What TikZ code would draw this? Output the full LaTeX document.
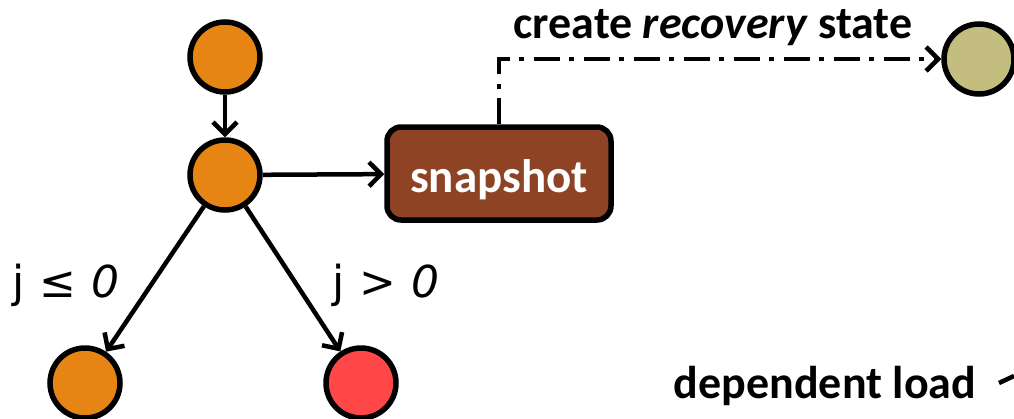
\documentclass[tikz,border=0pt]{standalone}
\usepackage{fontspec}
\setmainfont{Carlito}
\newfontfamily\hand{DejaVu Sans}
\usetikzlibrary{arrows.meta}
\definecolor{nodeorange}{HTML}{E68514}
\definecolor{nodered}{HTML}{FF4747}
\definecolor{nodekhaki}{HTML}{C4BD80}
\definecolor{snapbrown}{HTML}{8E4324}
\tikzset{
  state/.style={circle, draw=black, line width=5.5pt, minimum size=70pt, inner sep=0pt},
  snapbox/.style={draw=black, fill=snapbrown, line width=5.5pt, rounded corners=14pt,
    minimum width=224pt, minimum height=93pt, inner sep=0pt},
  barb/.style={-{Straight Barb[length=12pt, width=24pt, line width=4.5pt]}},
  flow/.style={line width=4.5pt, barb},
  dashdot/.style={line width=4.5pt, dash pattern=on 26pt off 9pt on 5pt off 10pt},
  boldlabel/.style={font=\fontsize{46}{50}\selectfont\bfseries, inner sep=0pt},
  condlabel/.style={font=\hand\fontsize{44}{48}\selectfont, inner sep=0pt}
}
\begin{document}
\begin{tikzpicture}[x=1pt, y=-1pt]
\useasboundingbox (0,0) rectangle (1014,418);

% states
\node[state, fill=nodeorange] (top) at (225,57) {};
\node[state, fill=nodeorange] (mid) at (225,175) {};
\node[state, fill=nodeorange] (left) at (85,383) {};
\node[state, fill=nodered] (right) at (361,383) {};
\node[state, fill=nodekhaki] (recov) at (979,59) {};

% snapshot box
\node[snapbox] (snap) at (499,173.5) {};
\node[font=\fontsize{47}{50}\selectfont\bfseries, text=white, anchor=base, inner sep=0pt] (snaptxt) at (499,192) {snapshot};

% connectors
\draw[flow] (top) -- (mid);
\draw[flow] (mid) -- (snap);
\draw[flow] (mid) -- (left);
\draw[flow] (mid) -- (right);
\draw[dashdot, barb] (snap.north) |- (recov.west);

% labels
\node[boldlabel, anchor=base] (lblrecov) at (713,38) {create \textit{recovery} state};
\node[boldlabel, anchor=base] (lbldep) at (825,398) {dependent load};
\node[condlabel, anchor=base] (condle) at (66,297) {j\hspace{15pt}≤\hspace{15pt}\textit{0}};
\node[condlabel, anchor=base] (condgt) at (386,297) {j\hspace{15pt}>\hspace{15pt}\textit{0}};

% arrow entering from the right edge
\coordinate (depA) at (999,383);
\coordinate (depB) at (1014,376);
\draw[line width=4.5pt] (depA) -- (depB);
\end{tikzpicture}
\end{document}
